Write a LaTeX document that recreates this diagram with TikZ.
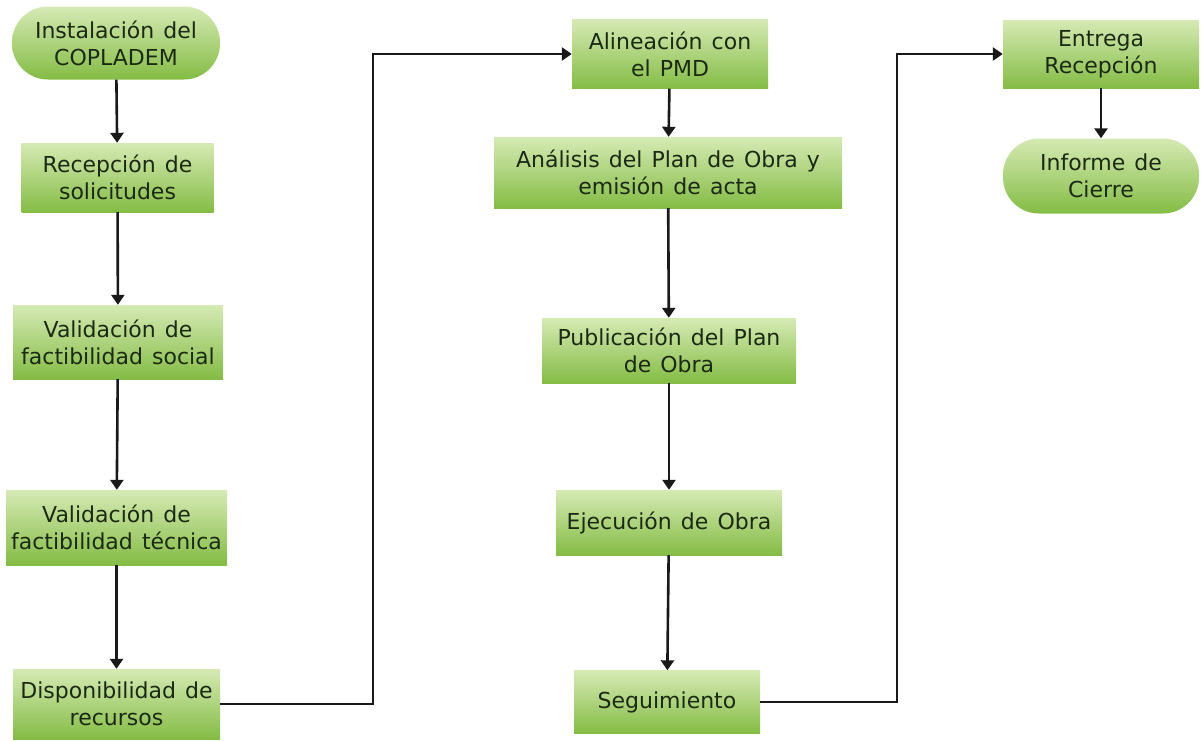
\documentclass[tikz,border=0pt]{standalone}
\usepackage{fontspec}
\setmainfont[WordSpace=1.3]{DejaVu Sans}
\usetikzlibrary{arrows.meta}
\definecolor{gtop}{HTML}{D6EAB4}
\definecolor{gbot}{HTML}{84BC45}
\definecolor{txt}{HTML}{1C2A14}
\begin{document}
\begin{tikzpicture}[x=1pt,y=-1pt,
  box/.style={rectangle, top color=gtop, bottom color=gbot, draw=none,
    align=center, text=txt, font=\fontsize{22}{27}\selectfont, inner sep=0pt},
  term/.style={box, rounded corners=36pt},
  arr/.style={line width=2.6pt, draw=black!90, -{Triangle[length=10pt,width=13pt]}}]
\useasboundingbox (0,0) rectangle (1203,740);
\fill[white] (0,0) rectangle (1203,740);
% left column
\node[term, minimum width=208pt, minimum height=73pt] (inst) at (116,43) {Instalación del\\COPLADEM};
\node[box, minimum width=192pt, minimum height=69pt] (rec) at (117.5,177.5) {Recepción de\\solicitudes};
\node[box, minimum width=210pt, minimum height=74pt] (vsoc) at (118,342) {Validación de\\factibilidad social};
\node[box, minimum width=221pt, minimum height=75pt] (vtec) at (116.5,527.5) {Validación de\\factibilidad técnica};
\node[box, minimum width=207pt, minimum height=70pt] (disp) at (116.5,704) {Disponibilidad de\\recursos};
% middle column
\node[box, minimum width=196pt, minimum height=69pt] (alin) at (670,54) {Alineación con\\el PMD};
\node[box, minimum width=348pt, minimum height=71pt] (anal) at (668,172.5) {Análisis del Plan de Obra y\\emisión de acta};
\node[box, minimum width=254pt, minimum height=65pt] (pub) at (669,350.5) {Publicación del Plan\\de Obra};
\node[box, minimum width=226pt, minimum height=65pt] (ejec) at (669,522.5) {Ejecución de Obra};
\node[box, minimum width=186pt, minimum height=63pt] (seg) at (667,702) {Seguimiento};
% right column
\node[box, minimum width=196pt, minimum height=68pt] (ent) at (1101,54) {Entrega\\Recepción};
\node[term, minimum width=196pt, minimum height=75pt] (inf) at (1101,176) {Informe de\\Cierre};
% junction coordinates
\coordinate (j1) at (373,0);
\coordinate (j2) at (897,0);
% connectors
\draw[arr] (inst) -- (rec);
\draw[arr] (rec) -- (vsoc);
\draw[arr] (vsoc) -- (vtec);
\draw[arr] (vtec) -- (disp);
\draw[arr] (disp.east) -- (disp.east -| j1) |- (alin.west);
\draw[arr] (alin) -- (anal);
\draw[arr] (anal) -- (pub);
\draw[arr] (pub) -- (ejec);
\draw[arr] (ejec) -- (seg);
\draw[arr] (seg.east) -- (seg.east -| j2) |- (ent.west);
\draw[arr] (ent) -- (inf);
\end{tikzpicture}
\end{document}
